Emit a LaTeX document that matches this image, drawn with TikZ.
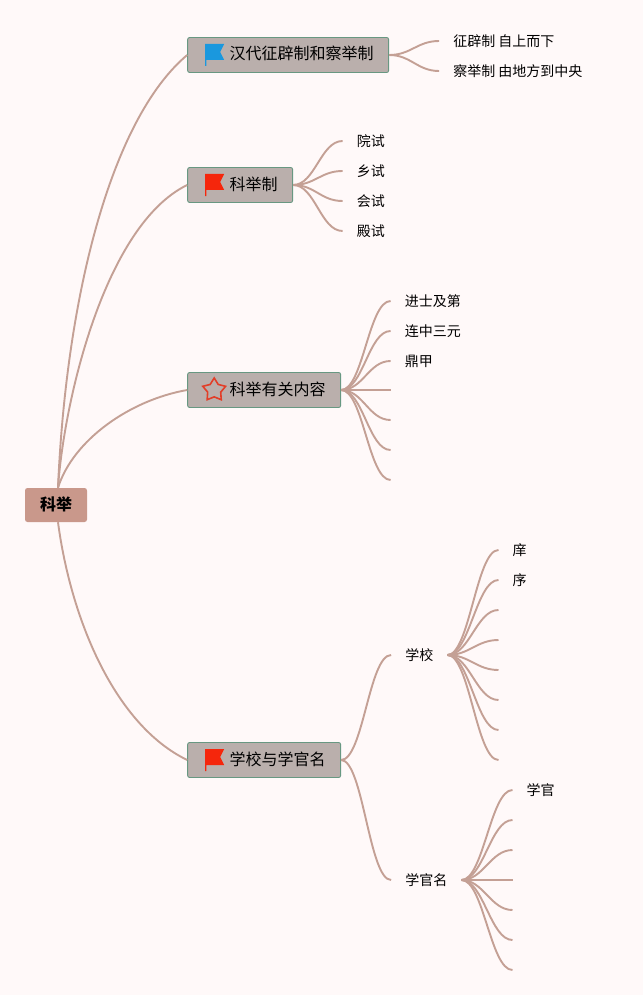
\documentclass[tikz,border=0pt]{standalone}
\usepackage{fontspec}
\setmainfont{Noto Sans CJK SC}
\usepackage{xcolor}
\usepackage{tikz}
\usetikzlibrary{positioning, shapes.geometric}
\definecolor{pagerose}{RGB}{255,249,249}
\definecolor{rootrose}{RGB}{201,152,139}
\definecolor{topicgray}{RGB}{186,175,172}
\definecolor{topicedge}{RGB}{104,152,130}
\definecolor{branchrose}{RGB}{196,160,149}
\definecolor{flagblue}{RGB}{26,152,222}
\definecolor{flagred}{RGB}{245,38,12}
\definecolor{starred}{RGB}{226,62,40}
\tikzset{
    pics/flagicon/.style={code={
        \fill[#1] (0,-11) -- (19,-11) -- (15,-3) -- (19,5) -- (1.2,5) -- (1.2,11) -- (0,11) -- cycle;
    }}
}

\begin{document}
\begin{tikzpicture}[
    x=1pt, y=-1pt,
    rootbox/.style={
        font=\bfseries\fontsize{16pt}{16pt}\selectfont,
        fill=rootrose,
        rounded corners=2.5pt,
        minimum width=62pt,
        minimum height=34pt,
        text height=12pt,
        text depth=2pt,
        inner sep=0pt
    },
    topic/.style={
        font=\fontsize{16pt}{16pt}\selectfont,
        fill=topicgray,
        draw=topicedge,
        line width=0.9pt,
        rounded corners=2pt,
        minimum height=35pt,
        text height=12pt,
        text depth=2pt,
        inner xsep=15pt,
        inner ysep=0pt,
        execute at begin node=\hspace*{27pt}
    },
    leaf/.style={
        font=\fontsize{14pt}{14pt}\selectfont,
        inner xsep=14pt,
        inner ysep=0pt,
        minimum height=18pt
    },
    branch/.style={
        draw=branchrose,
        line width=1.9pt,
        to path={.. controls +(22,0) and +(-22,0) .. (\tikztotarget)}
    }
]
\fill[pagerose] (0,0) rectangle (643,995);

\node[rootbox] (root) at (56,505) {科举};

% topics
\node[topic, right=100pt of root, yshift=450pt] (han) {汉代征辟制和察举制};
\node[topic, right=100pt of root, yshift=320pt] (keju) {科举制};
\node[topic, right=100pt of root, yshift=115pt] (content) {科举有关内容};
\node[topic, right=100pt of root, yshift=-255pt] (school) {学校与学官名};

\pic at ([xshift=18pt]han.west) {flagicon=flagblue};
\pic at ([xshift=18pt]keju.west) {flagicon=flagred};
\pic at ([xshift=18pt]school.west) {flagicon=flagred};
\node[star, star points=5, star point ratio=1.75, draw=starred, line width=1.6pt,
    minimum size=24pt, inner sep=0pt] (contentstar) at ([xshift=27pt]content.west) {};

% leaves
\node[leaf, right=50pt of han, yshift=14pt] (zhengpi) {征辟制 自上而下};
\node[leaf, right=50pt of han, yshift=-16pt] (chaju) {察举制 由地方到中央};

\node[leaf, right=49.5pt of keju, yshift=44pt] (yuan) {院试};
\node[leaf, right=49.5pt of keju, yshift=14pt] (xiang) {乡试};
\node[leaf, right=49.5pt of keju, yshift=-16pt] (hui) {会试};
\node[leaf, right=49.5pt of keju, yshift=-46pt] (dian) {殿试};

\node[leaf, right=49.5pt of content, yshift=89pt] (jinshi) {进士及第};
\node[leaf, right=49.5pt of content, yshift=59pt] (lianzhong) {连中三元};
\node[leaf, right=49.5pt of content, yshift=29pt] (dingjia) {鼎甲};
\coordinate[right=49.5pt of content] (contentd);
\coordinate[right=49.5pt of content, yshift=-30pt] (contente);
\coordinate[right=49.5pt of content, yshift=-60pt] (contentf);
\coordinate[right=49.5pt of content, yshift=-90pt] (contentg);

\node[leaf, right=50pt of school, yshift=105pt] (xuexiao) {学校};
\node[leaf, right=50pt of school, yshift=-120pt] (xueguan) {学官名};

\node[leaf, right=51pt of xuexiao, yshift=105pt] (xiangsch) {庠};
\node[leaf, right=51pt of xuexiao, yshift=75pt] (xu) {序};
\coordinate[right=51pt of xuexiao, yshift=45pt] (xuexiaoc);
\coordinate[right=51pt of xuexiao, yshift=15pt] (xuexiaod);
\coordinate[right=51pt of xuexiao, yshift=-15pt] (xuexiaoe);
\coordinate[right=51pt of xuexiao, yshift=-45pt] (xuexiaof);
\coordinate[right=51pt of xuexiao, yshift=-75pt] (xuexiaog);
\coordinate[right=51pt of xuexiao, yshift=-105pt] (xuexiaoh);

\node[leaf, right=51pt of xueguan, yshift=90pt] (guan) {学官};
\coordinate[right=51pt of xueguan, yshift=60pt] (xueguanb);
\coordinate[right=51pt of xueguan, yshift=30pt] (xueguanc);
\coordinate[right=51pt of xueguan] (xueguand);
\coordinate[right=51pt of xueguan, yshift=-30pt] (xueguane);
\coordinate[right=51pt of xueguan, yshift=-60pt] (xueguanf);
\coordinate[right=51pt of xueguan, yshift=-90pt] (xueguang);

% root branches
\draw[branch] ([xshift=2pt]root.north) .. controls (66,300) and (110,120) .. (han.west);
\draw[branch] ([xshift=2pt]root.north) .. controls (64,400) and (105,225) .. (keju.west);
\draw[branch] ([xshift=2pt]root.north) .. controls (73,440) and (130,400) .. (content.west);
\draw[branch] ([xshift=2pt]root.south) .. controls (71,620) and (115,725) .. (school.west);

\draw[branch] (han.east) to (zhengpi.west);
\draw[branch] (han.east) to (chaju.west);

\draw[branch] (keju.east) to (yuan.west);
\draw[branch] (keju.east) to (xiang.west);
\draw[branch] (keju.east) to (hui.west);
\draw[branch] (keju.east) to (dian.west);

\draw[branch] (content.east) to (jinshi.west);
\draw[branch] (content.east) to (lianzhong.west);
\draw[branch] (content.east) to (dingjia.west);
\draw[branch] (content.east) to (contentd);
\draw[branch] (content.east) to (contente);
\draw[branch] (content.east) to (contentf);
\draw[branch] (content.east) to (contentg);

\draw[branch] (school.east) to (xuexiao.west);
\draw[branch] (school.east) to (xueguan.west);

\draw[branch] (xuexiao.east) to (xiangsch.west);
\draw[branch] (xuexiao.east) to (xu.west);
\draw[branch] (xuexiao.east) to (xuexiaoc);
\draw[branch] (xuexiao.east) to (xuexiaod);
\draw[branch] (xuexiao.east) to (xuexiaoe);
\draw[branch] (xuexiao.east) to (xuexiaof);
\draw[branch] (xuexiao.east) to (xuexiaog);
\draw[branch] (xuexiao.east) to (xuexiaoh);

\draw[branch] (xueguan.east) to (guan.west);
\draw[branch] (xueguan.east) to (xueguanb);
\draw[branch] (xueguan.east) to (xueguanc);
\draw[branch] (xueguan.east) to (xueguand);
\draw[branch] (xueguan.east) to (xueguane);
\draw[branch] (xueguan.east) to (xueguanf);
\draw[branch] (xueguan.east) to (xueguang);

\end{tikzpicture}
\end{document}
